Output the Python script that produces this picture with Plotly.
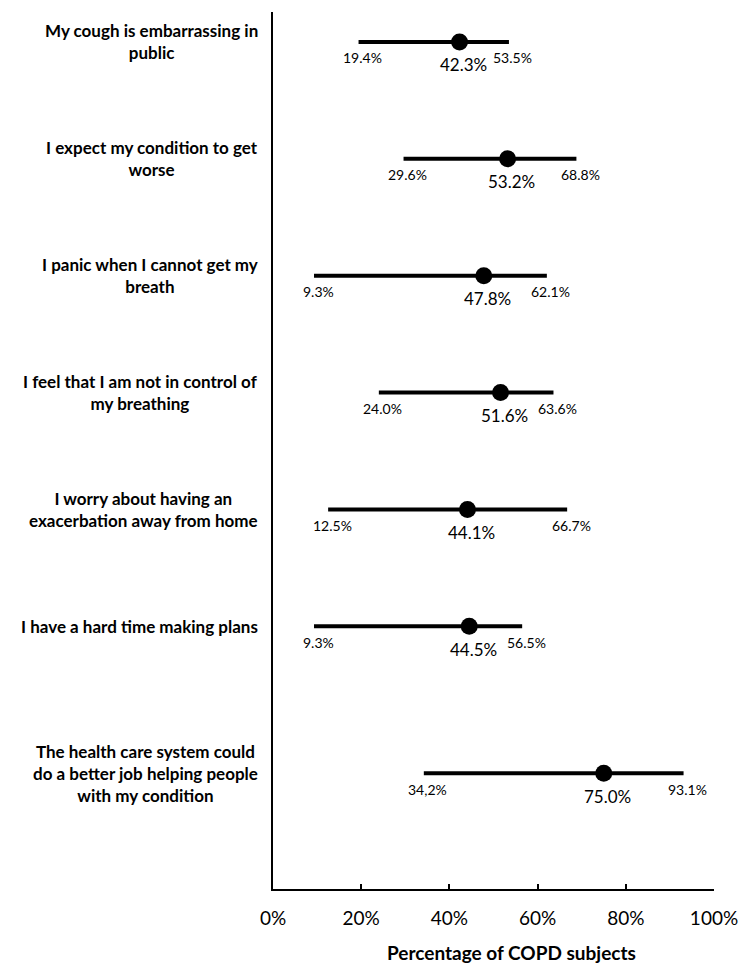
import plotly.graph_objects as go

# Survey statements and the share of COPD subjects agreeing (mean, range)
statements = [
    "My cough is embarrassing in<br>public",
    "I expect my condition to get<br>worse",
    "I panic when I cannot get my<br>breath",
    "I feel that I am not in control of<br>my breathing",
    "I worry about having an<br>exacerbation away from home",
    "I have a hard time making plans",
    "The health care system could<br>do a better job helping people<br>with my condition",
]
mean_pct = [42.3, 53.2, 47.8, 51.6, 44.1, 44.5, 75.0]
low_pct = [19.4, 29.6, 9.3, 24.0, 12.5, 9.3, 34.2]
high_pct = [53.5, 68.8, 62.1, 63.6, 66.7, 56.5, 93.1]
low_text = ["19.4%", "29.6%", "9.3%", "24.0%", "12.5%", "9.3%", "34,2%"]
x_ticks = [0, 20, 40, 60, 80, 100]

# Vertical slot of each statement (the last one sits a bit further down)
row_y = [0, 1, 2, 3, 4, 5, 6.256]

FONT = "Lato, 'Open Sans', sans-serif"

fig = go.Figure()
fig.add_trace(go.Scatter(
    x=mean_pct,
    y=row_y,
    mode="markers",
    marker=dict(size=17, color="black"),
    error_x=dict(
        type="data",
        symmetric=False,
        array=[h - m for h, m in zip(high_pct, mean_pct)],
        arrayminus=[m - l for m, l in zip(mean_pct, low_pct)],
        thickness=4,
        width=0,
        color="black",
    ),
    cliponaxis=False,
    showlegend=False,
    hoverinfo="skip",
))

annotations = []
for s, m, lo, hi, lt, y in zip(statements, mean_pct, low_pct, high_pct, low_text, row_y):
    annotations.append(dict(
        x=0, xref="paper", y=y, yref="y", text="<b>" + s + "</b>",
        xanchor="right", yanchor="middle", align="center", xshift=-13,
        showarrow=False, font=dict(family=FONT, size=17, color="black"),
    ))
    annotations.append(dict(
        x=lo, y=y, text=lt, xanchor="center", yanchor="middle",
        xshift=4, yshift=-16, showarrow=False,
        font=dict(family=FONT, size=14, color="black"),
    ))
    annotations.append(dict(
        x=hi, y=y, text=f"{hi:.1f}%", xanchor="center", yanchor="middle",
        xshift=4, yshift=-16, showarrow=False,
        font=dict(family=FONT, size=14, color="black"),
    ))
    annotations.append(dict(
        x=m, y=y, text=f"{m:.1f}%", xanchor="center", yanchor="middle",
        xshift=4, yshift=-23, showarrow=False,
        font=dict(family=FONT, size=17, color="black"),
    ))

annotations.append(dict(
    x=0.541, xref="paper", y=-0.072, yref="paper",
    text="<b>Percentage of COPD subjects</b>",
    xanchor="center", yanchor="middle", showarrow=False,
    font=dict(family=FONT, size=19, color="black"),
))

fig.update_layout(
    width=742,
    height=964,
    margin=dict(l=273, r=28, t=12, b=75),
    paper_bgcolor="white",
    plot_bgcolor="white",
    font=dict(family=FONT, color="black"),
    annotations=annotations,
    xaxis=dict(
        range=[0, 100],
        tickvals=x_ticks,
        ticktext=[f"{v}%" for v in x_ticks],
        tickfont=dict(family=FONT, size=19, color="black"),
        showline=True, linecolor="black", linewidth=2,
        ticks="inside", ticklen=5, tickwidth=2, tickcolor="black",
        showgrid=False, zeroline=False,
        ticklabelstandoff=11,
        ticklabeloverflow="allow",
        automargin=False,
    ),
    yaxis=dict(
        range=[7.247, -0.256],
        showline=True, linecolor="black", linewidth=1.5,
        showticklabels=False, ticks="",
        showgrid=False, zeroline=False,
        automargin=False,
    ),
)

fig.write_html("out.html")
